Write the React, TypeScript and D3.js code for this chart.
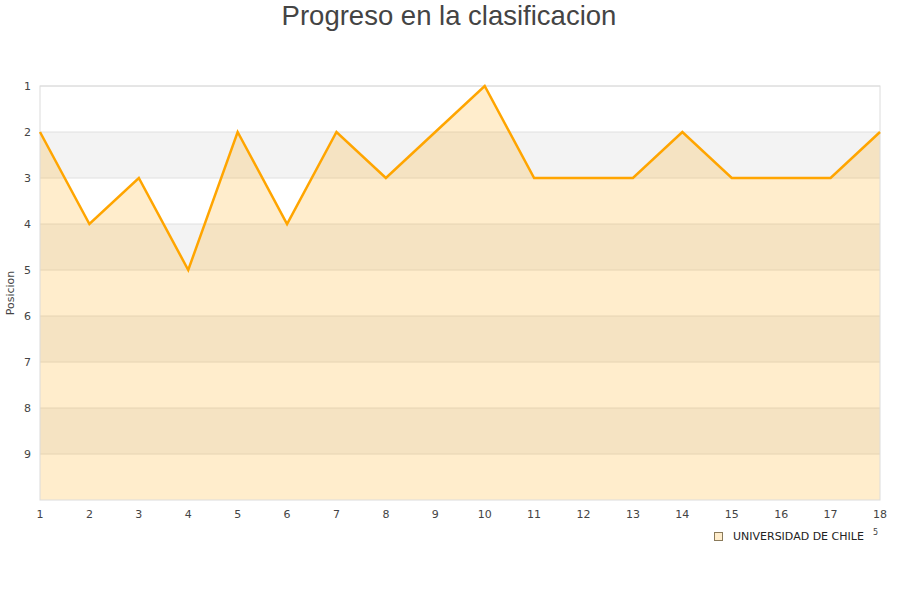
import React from "react";
import * as d3 from "d3";

const rounds = [1, 2, 3, 4, 5, 6, 7, 8, 9, 10, 11, 12, 13, 14, 15, 16, 17, 18];
const positions = [2, 4, 3, 5, 2, 4, 2, 3, 2, 1, 3, 3, 3, 2, 3, 3, 3, 2];
const yTicks = [1, 2, 3, 4, 5, 6, 7, 8, 9];
const seriesName = "UNIVERSIDAD DE CHILE";
const title = "Progreso en la clasificacion";
const yTitle = "Posicion";

export default function App() {
  const W = 900, H = 600;
  const left = 40, right = 880, top = 86, bottom = 500;
  const x = d3.scaleLinear().domain([1, 18]).range([left, right]);
  const y = d3.scaleLinear().domain([1, 10]).range([top, bottom]);
  const data = rounds.map((r, i) => ({ r, p: positions[i] }));
  const line = d3.line<{ r: number; p: number }>().x(d => x(d.r)).y(d => y(d.p));
  const area = d3
    .area<{ r: number; p: number }>()
    .x(d => x(d.r))
    .y0(y(10))
    .y1(d => y(d.p));
  const bands = d3.range(1, 10);
  const font = "'DejaVu Sans', Verdana, sans-serif";
  return (
    <svg
      width={W}
      height={H}
      style={{ position: "absolute", left: 0, top: 0, background: "#fff" }}
    >
      <text
        x={449}
        y={25}
        textAnchor="middle"
        fontFamily="'Liberation Sans', Arial, sans-serif"
        fontSize={27.5}
        fill="#444"
      >
        {title}
      </text>
      {bands.map(b => (
        <rect
          key={b}
          x={left}
          y={y(b)}
          width={right - left}
          height={y(b + 1) - y(b)}
          fill={b % 2 === 0 ? "#f3f3f3" : "#ffffff"}
        />
      ))}
      {yTicks.map(t => (
        <line key={t} x1={left} x2={right} y1={y(t)} y2={y(t)} stroke="#e0e0e0" strokeWidth={1} />
      ))}
      <path d={area(data) || ""} fill="#ffa500" fillOpacity={0.2} />
      <rect x={left} y={top} width={right - left} height={bottom - top} fill="none" stroke="#dcdcdc" strokeWidth={1} />
      <path d={line(data) || ""} fill="none" stroke="#ffa500" strokeWidth={2.5} strokeLinejoin="miter" />
      {yTicks.map(t => (
        <text key={t} x={31} y={y(t) + 4} textAnchor="end" fontFamily={font} fontSize={11} fill="#444">
          {t}
        </text>
      ))}
      {rounds.map(r => (
        <text key={r} x={x(r)} y={518} textAnchor="middle" fontFamily={font} fontSize={11} fill="#444">
          {r}
        </text>
      ))}
      <text
        transform={`translate(14,${(top + bottom) / 2}) rotate(-90)`}
        textAnchor="middle"
        fontFamily={font}
        fontSize={11}
        fill="#444"
      >
        {yTitle}
      </text>
      <rect x={714.5} y={532.5} width={8} height={8} fill="#ffedcc" stroke="#8a7a5a" strokeWidth={1} />
      <text x={733} y={540} fontFamily={font} fontSize={11} fill="#222">
        {seriesName}
      </text>
      <text x={873} y={535} fontFamily={font} fontSize={8} fill="#444">
        5
      </text>
    </svg>
  );
}
